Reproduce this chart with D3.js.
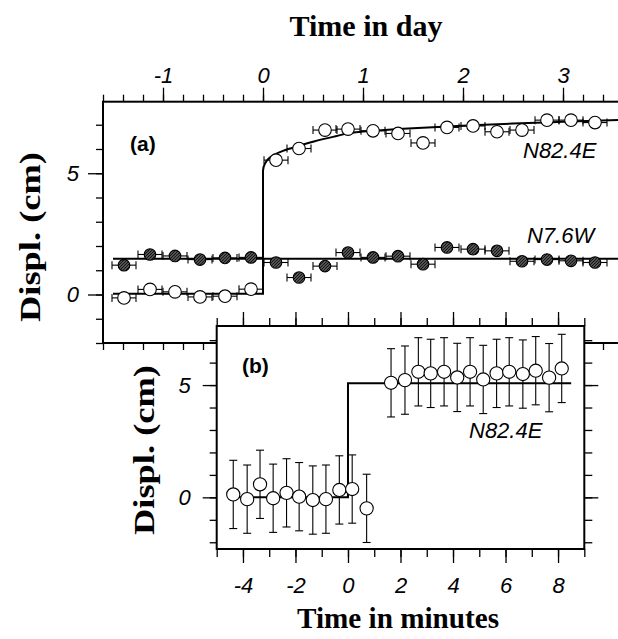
<!DOCTYPE html>
<html>
<head>
<meta charset="utf-8">
<script src="https://cdn.jsdelivr.net/npm/d3@7"></script>
<style>
  body { margin: 0; background: #fff; }
  .tick text { font-family: "Liberation Sans", Arial, sans-serif; font-style: italic; font-size: 22px; fill: #000; }
  .tick line { stroke: #000; stroke-width: 1.3; }
  .axis path.domain { display: none; }
</style>
</head>
<body>
<div id="chart"></div>
<script>
// panel (a): time in day
const dayTimes = [-1.39, -1.13, -0.88, -0.63, -0.38, -0.12, 0.13, 0.36, 0.62, 0.85,
  1.10, 1.35, 1.60, 1.84, 2.10, 2.34, 2.59, 2.84, 3.08, 3.32];
const eastA = [-0.14, 0.21, 0.11, -0.10, -0.07, 0.22, 5.54, 6.02, 6.78, 6.82,
  6.75, 6.64, 6.25, 6.89, 6.95, 6.71, 6.78, 7.19, 7.19, 7.09];
const northA = [1.21, 1.65, 1.59, 1.44, 1.51, 1.53, 1.32, 0.70, 1.17, 1.73,
  1.53, 1.58, 1.25, 1.94, 1.87, 1.80, 1.37, 1.44, 1.39, 1.32];
const dayErr = 0.12;

// model curves of panel (a)
const eastModelT = [-1.5, 0, 0, 0.02, 0.05, 0.1, 0.2, 0.35, 0.5, 0.7, 1.0, 1.5, 2.0, 2.5, 3.0, 3.6];
const eastModelV = [0.03, 0.03, 5.1, 5.4, 5.58, 5.74, 5.92, 6.12, 6.3, 6.5, 6.72, 6.86, 6.96, 7.05, 7.12, 7.2];
const northModelT = [-1.5, 3.6];
const northModelV = [1.47, 1.47];

// panel (b): time in minutes
const minTimes = [-4.37, -3.84, -3.35, -2.85, -2.34, -1.86, -1.34, -0.84, -0.33, 0.16, 0.71,
  1.64, 2.17, 2.68, 3.15, 3.66, 4.16, 4.65, 5.15, 5.66, 6.14, 6.66, 7.15, 7.66, 8.14];
const eastB = [0.13, -0.08, 0.58, -0.04, 0.20, 0.03, -0.12, -0.08, 0.33, 0.37, -0.49,
  5.10, 5.22, 5.59, 5.52, 5.59, 5.34, 5.59, 5.25, 5.52, 5.59, 5.49, 5.64, 5.33, 5.74];
const cmErr = 1.52;
const stepModelT = [-4.5, 0, 0, 8.5];
const stepModelV = [0, 0, 5.08, 5.08];

// tick labels
const dayTicks = [-1, 0, 1, 2, 3];
const cmTicks = [0, 5];
const minuteTicks = [-4, -2, 0, 2, 4, 6, 8];

const W = 618, H = 639;
const svg = d3.select("#chart").append("svg").attr("width", W).attr("height", H);

// dark hatched fill of the N7.6W dots
const defs = svg.append("defs");
const pat = defs.append("pattern").attr("id", "hatch")
  .attr("width", 3).attr("height", 3).attr("patternUnits", "userSpaceOnUse");
pat.append("rect").attr("width", 3).attr("height", 3).attr("fill", "#6e6e6e");
pat.append("path").attr("d", "M-1,1 L1,-1 M0,3 L3,0 M2,4 L4,2")
  .attr("stroke", "#111").attr("stroke-width", 1.2);

const xa = d3.scaleLinear().domain([-1.6, 3.6]).range([103, 623]);
const ya = d3.scaleLinear().domain([-2, 7.95]).range([343, 101.7]);
const xb = d3.scaleLinear().domain([-5, 9]).range([216.7, 584.3]);
const yb = d3.scaleLinear().domain([-2.3, 7.63]).range([549, 326]);

const fmt = d => String(d);

function addAxis(g, gen, scale, values, size, pad, labels) {
  const a = gen(scale).tickValues(values).tickSize(size).tickPadding(pad)
    .tickFormat(labels ? fmt : "");
  g.append("g").attr("class", "axis").call(a);
}

// ---------------- panel (a) ----------------
const ga = svg.append("g");
const dayMinor = d3.range(-1.6, 3.61, 0.2).map(d => +d.toFixed(1));

const aTop = ga.append("g").attr("transform", `translate(0,${ya.range()[1]})`);
addAxis(aTop, d3.axisTop, xa, dayMinor, 7, 5, false);
addAxis(aTop, d3.axisTop, xa, dayTicks, 14, 5, true);
const aBot = ga.append("g").attr("transform", `translate(0,${ya.range()[0]})`);
addAxis(aBot, d3.axisBottom, xa, dayMinor, 7, 5, false);
const aLeft = ga.append("g").attr("transform", `translate(${xa.range()[0]},0)`);
addAxis(aLeft, d3.axisLeft, ya, d3.range(-2, 8), 7, 9, false);
addAxis(aLeft, d3.axisLeft, ya, cmTicks, 15, 9, true);

ga.append("rect")
  .attr("x", xa.range()[0]).attr("y", ya.range()[1])
  .attr("width", xa.range()[1] - xa.range()[0])
  .attr("height", ya.range()[0] - ya.range()[1])
  .attr("fill", "none").attr("stroke", "#000").attr("stroke-width", 2);

const lineA = d3.line().x(d => xa(d[0])).y(d => ya(d[1]));
ga.append("path").datum(d3.zip(northModelT, northModelV))
  .attr("d", lineA).attr("fill", "none").attr("stroke", "#000").attr("stroke-width", 2);
ga.append("path").datum(d3.zip(eastModelT, eastModelV))
  .attr("d", d3.line().x(d => xa(d[0])).y(d => ya(d[1])).curve(d3.curveMonotoneY))
  .attr("fill", "none").attr("stroke", "#000").attr("stroke-width", 2);

function hBars(g, vals) {
  const sel = g.append("g").selectAll("g").data(d3.zip(dayTimes, vals)).enter().append("g")
    .attr("stroke", "#000").attr("stroke-width", 1.1);
  sel.append("line")
    .attr("x1", d => xa(d[0] - dayErr)).attr("x2", d => xa(d[0] + dayErr))
    .attr("y1", d => ya(d[1])).attr("y2", d => ya(d[1]));
  [-1, 1].forEach(s => {
    sel.append("line")
      .attr("x1", d => xa(d[0] + s * dayErr)).attr("x2", d => xa(d[0] + s * dayErr))
      .attr("y1", d => ya(d[1]) - 4).attr("y2", d => ya(d[1]) + 4);
  });
}
hBars(ga, eastA);
hBars(ga, northA);

ga.append("g").selectAll("circle").data(d3.zip(dayTimes, northA)).enter().append("circle")
  .attr("cx", d => xa(d[0])).attr("cy", d => ya(d[1])).attr("r", 5.8)
  .attr("fill", "url(#hatch)").attr("stroke", "#000").attr("stroke-width", 1.1);
ga.append("g").selectAll("circle").data(d3.zip(dayTimes, eastA)).enter().append("circle")
  .attr("cx", d => xa(d[0])).attr("cy", d => ya(d[1])).attr("r", 6.3)
  .attr("fill", "#fff").attr("stroke", "#000").attr("stroke-width", 1.1);

const lbl = "'Liberation Sans', Arial, sans-serif";
ga.append("text").attr("x", 130).attr("y", 151).text("(a)")
  .attr("font-family", lbl).attr("font-weight", "bold").attr("font-size", 21);
ga.append("text").attr("x", 523).attr("y", 158).text("N82.4E")
  .attr("font-family", lbl).attr("font-style", "italic").attr("font-size", 22);
ga.append("text").attr("x", 527).attr("y", 243).text("N7.6W")
  .attr("font-family", lbl).attr("font-style", "italic").attr("font-size", 22);

// ---------------- panel (b) ----------------
const gb = svg.append("g");
gb.append("rect")
  .attr("x", xb.range()[0]).attr("y", yb.range()[1])
  .attr("width", xb.range()[1] - xb.range()[0])
  .attr("height", yb.range()[0] - yb.range()[1])
  .attr("fill", "#fff").attr("stroke", "#000").attr("stroke-width", 2);

const minMinor = d3.range(-5, 10);
const cmMinorB = d3.range(-2, 8);
const bTop = gb.append("g").attr("transform", `translate(0,${yb.range()[1]})`);
addAxis(bTop, d3.axisTop, xb, minMinor, 8, 5, false);
addAxis(bTop, d3.axisTop, xb, minuteTicks, 14, 5, false);
const bBot = gb.append("g").attr("transform", `translate(0,${yb.range()[0]})`);
addAxis(bBot, d3.axisBottom, xb, minMinor, 8, 14, false);
addAxis(bBot, d3.axisBottom, xb, minuteTicks, 14, 14, true);
const bLeft = gb.append("g").attr("transform", `translate(${xb.range()[0]},0)`);
addAxis(bLeft, d3.axisLeft, yb, cmMinorB, 7, 9, false);
addAxis(bLeft, d3.axisLeft, yb, cmTicks, 14, 12, true);
const bRight = gb.append("g").attr("transform", `translate(${xb.range()[1]},0)`);
addAxis(bRight, d3.axisRight, yb, cmMinorB, 8, 5, false);
addAxis(bRight, d3.axisRight, yb, cmTicks, 14, 5, false);

gb.append("path").datum(d3.zip(stepModelT, stepModelV))
  .attr("d", d3.line().x(d => xb(d[0])).y(d => yb(d[1])))
  .attr("fill", "none").attr("stroke", "#000").attr("stroke-width", 2);

const eb = gb.append("g").selectAll("g").data(d3.zip(minTimes, eastB)).enter().append("g")
  .attr("stroke", "#000").attr("stroke-width", 1.1);
eb.append("line")
  .attr("x1", d => xb(d[0])).attr("x2", d => xb(d[0]))
  .attr("y1", d => yb(d[1] - cmErr)).attr("y2", d => yb(d[1] + cmErr));
[-1, 1].forEach(s => {
  eb.append("line")
    .attr("x1", d => xb(d[0]) - 4).attr("x2", d => xb(d[0]) + 4)
    .attr("y1", d => yb(d[1] + s * cmErr)).attr("y2", d => yb(d[1] + s * cmErr));
});
gb.append("g").selectAll("circle").data(d3.zip(minTimes, eastB)).enter().append("circle")
  .attr("cx", d => xb(d[0])).attr("cy", d => yb(d[1])).attr("r", 6.6)
  .attr("fill", "#fff").attr("stroke", "#000").attr("stroke-width", 1.1);

gb.append("text").attr("x", 242).attr("y", 373).text("(b)")
  .attr("font-family", lbl).attr("font-weight", "bold").attr("font-size", 21);
gb.append("text").attr("x", 469).attr("y", 438).text("N82.4E")
  .attr("font-family", lbl).attr("font-style", "italic").attr("font-size", 22);

// ---------------- titles ----------------
const serif = "'Liberation Serif', 'Times New Roman', serif";
svg.append("text").attr("x", 366).attr("y", 36).attr("text-anchor", "middle")
  .attr("font-family", serif).attr("font-weight", "bold").attr("font-size", 29)
  .attr("textLength", 153).attr("lengthAdjust", "spacingAndGlyphs").text("Time in day");
svg.append("text").attr("x", 398).attr("y", 628).attr("text-anchor", "middle")
  .attr("font-family", serif).attr("font-weight", "bold").attr("font-size", 29)
  .attr("textLength", 202).attr("lengthAdjust", "spacingAndGlyphs").text("Time in minutes");
svg.append("text").attr("transform", "translate(40,237) rotate(-90)").attr("text-anchor", "middle")
  .attr("font-family", serif).attr("font-weight", "bold").attr("font-size", 30)
  .attr("textLength", 170).attr("lengthAdjust", "spacingAndGlyphs").text("Displ. (cm)");
svg.append("text").attr("transform", "translate(154,450) rotate(-90)").attr("text-anchor", "middle")
  .attr("font-family", serif).attr("font-weight", "bold").attr("font-size", 30)
  .attr("textLength", 170).attr("lengthAdjust", "spacingAndGlyphs").text("Displ. (cm)");
</script>
</body>
</html>
